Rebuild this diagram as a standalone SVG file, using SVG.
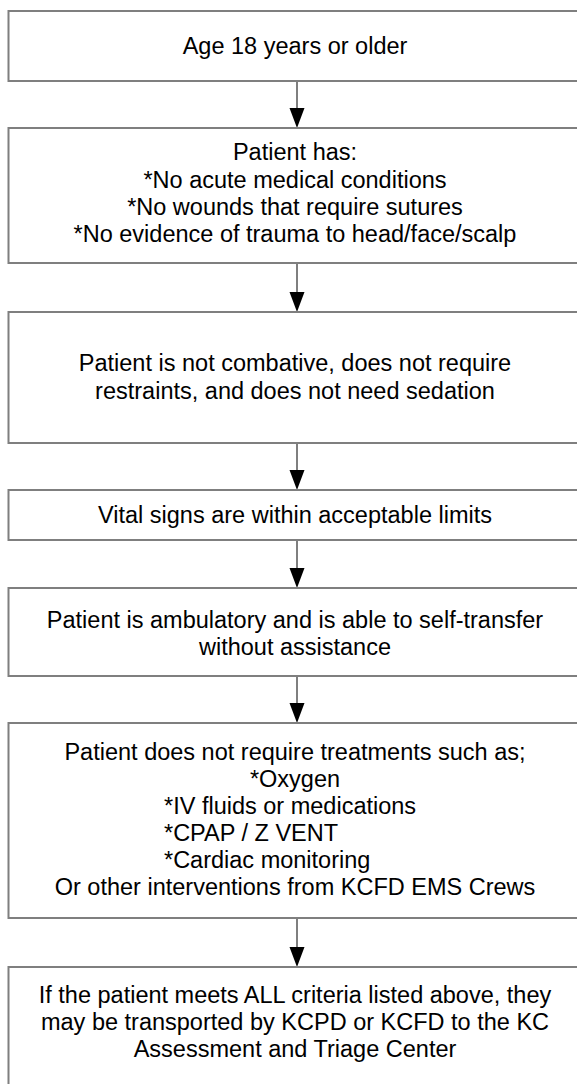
<svg xmlns="http://www.w3.org/2000/svg" width="577" height="1084" viewBox="0 0 577 1084">
<defs>
<style>
.box{fill:#fff;stroke:#7f7f7f;stroke-width:2}
.t{font-family:"Liberation Sans",Arial,sans-serif;font-size:23.5px;fill:#000;text-anchor:middle}
.l{text-anchor:start}
.c{stroke:#7f7f7f;stroke-width:2;fill:none}
.h{fill:#000}
</style>
</defs>
<rect width="577" height="1084" fill="#fff"/>
<g id="connectors">
<line class="c" x1="297" y1="81" x2="297" y2="110"/><polygon class="h" points="289.5,108 304.5,108 297,128"/>
<line class="c" x1="297" y1="263" x2="297" y2="294"/><polygon class="h" points="289.5,292 304.5,292 297,312"/>
<line class="c" x1="297" y1="443" x2="297" y2="472"/><polygon class="h" points="289.5,470 304.5,470 297,490"/>
<line class="c" x1="297" y1="540" x2="297" y2="570"/><polygon class="h" points="289.5,568 304.5,568 297,588"/>
<line class="c" x1="297" y1="676" x2="297" y2="705"/><polygon class="h" points="289.5,703 304.5,703 297,723"/>
<line class="c" x1="297" y1="918" x2="297" y2="949"/><polygon class="h" points="289.5,947 304.5,947 297,967"/>
</g>
<g id="n1"><rect class="box" x="8.5" y="11" width="580" height="70"/>
<text class="t" x="295" y="54">Age 18 years or older</text></g>
<g id="n2"><rect class="box" x="8.5" y="128" width="580" height="135"/>
<text class="t" x="295" y="160">Patient has:</text>
<text class="t" x="295" y="188">*No acute medical conditions</text>
<text class="t" x="295" y="215">*No wounds that require sutures</text>
<text class="t" x="295" y="242">*No evidence of trauma to head/face/scalp</text></g>
<g id="n3"><rect class="box" x="8.5" y="312" width="580" height="131"/>
<text class="t" x="295" y="371">Patient is not combative, does not require</text>
<text class="t" x="295" y="399">restraints, and does not need sedation</text></g>
<g id="n4"><rect class="box" x="8.5" y="490" width="580" height="50"/>
<text class="t" x="295" y="523">Vital signs are within acceptable limits</text></g>
<g id="n5"><rect class="box" x="8.5" y="588" width="580" height="88"/>
<text class="t" x="295" y="628">Patient is ambulatory and is able to self-transfer</text>
<text class="t" x="295" y="655">without assistance</text></g>
<g id="n6"><rect class="box" x="8.5" y="723" width="580" height="195"/>
<text class="t" x="295" y="760">Patient does not require treatments such as;</text>
<text class="t" x="295" y="787">*Oxygen</text>
<text class="t l" x="164" y="814">*IV fluids or medications</text>
<text class="t l" x="164" y="841">*CPAP / Z VENT</text>
<text class="t l" x="164" y="868">*Cardiac monitoring</text>
<text class="t" x="295" y="895">Or other interventions from KCFD EMS Crews</text></g>
<g id="n7"><rect class="box" x="8.5" y="967" width="580" height="130"/>
<text class="t" x="295" y="1003">If the patient meets ALL criteria listed above, they</text>
<text class="t" x="295" y="1030">may be transported by KCPD or KCFD to the KC</text>
<text class="t" x="295" y="1057">Assessment and Triage Center</text></g>
</svg>
